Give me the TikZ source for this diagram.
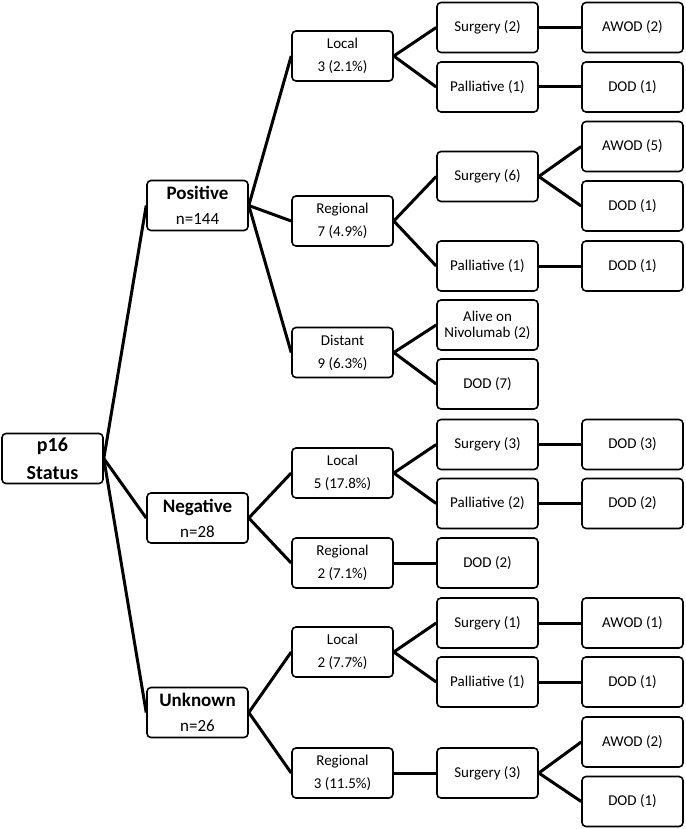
\documentclass[tikz,border=0pt]{standalone}
\usepackage{fontspec}
\setmainfont{Carlito}
\usetikzlibrary{positioning}

\begin{document}
\begin{tikzpicture}[x=1pt,y=1pt,
    node distance=145pt,
    on grid,
    box/.style={draw,rounded corners=4pt,line width=1.6pt,
      minimum width=101pt,minimum height=50pt,inner sep=0pt,align=center,
      font=\fontsize{15}{23}\selectfont},
    tight/.style={font=\fontsize{15}{16}\selectfont},
    top/.style={font=\fontsize{20}{28}\selectfont\bfseries},
    group/.style={font=\fontsize{17}{25}\selectfont},
    branch/.style={line width=3pt}]

    \useasboundingbox (0,0) rectangle (685,-829);

    \node[box,top]   (root) at (52.5,-458.5)                   {p16\\Status};

    \node[box,group] (pos) [above right=253pt and 145pt of root] {{\bfseries\fontsize{19}{25}\selectfont Positive}\\n=144};
    \node[box,group] (neg) [below right=59.5pt and 145pt of root] {{\bfseries\fontsize{19}{25}\selectfont Negative}\\n=28};
    \node[box,group] (unk) [below right=254pt and 145pt of root] {{\bfseries\fontsize{19}{25}\selectfont Unknown}\\n=26};

    \node[box] (pos_loc)  [above right=149.5pt and 145pt of pos] {Local\\3 (2.1\%)};
    \node[box] (pos_reg)  [below right=15.5pt and 145pt of pos]  {Regional\\7 (4.9\%)};
    \node[box] (pos_dist) [below right=147pt and 145pt of pos]   {Distant\\9 (6.3\%)};
    \node[box] (neg_loc)  [above right=45pt and 145pt of neg]    {Local\\5 (17.8\%)};
    \node[box] (neg_reg)  [below right=45pt and 145pt of neg]    {Regional\\2 (7.1\%)};
    \node[box] (unk_loc)  [above right=60.5pt and 145pt of unk]  {Local\\2 (7.7\%)};
    \node[box] (unk_reg)  [below right=60.5pt and 145pt of unk]  {Regional\\3 (11.5\%)};

    \node[box] (pl_surg)  [above right=28.5pt and 145pt of pos_loc]  {Surgery (2)};
    \node[box] (pl_pall)  [below right=31pt and 145pt of pos_loc]    {Palliative (1)};
    \node[box] (pr_surg)  [above right=44.5pt and 145pt of pos_reg]  {Surgery (6)};
    \node[box] (pr_pall)  [below right=45pt and 145pt of pos_reg]    {Palliative (1)};
    \node[box,tight] (pd_alive) [above right=27.5pt and 145pt of pos_dist] {Alive on\\Nivolumab (2)};
    \node[box] (pd_dod)   [below right=31.5pt and 145pt of pos_dist] {DOD (7)};
    \node[box] (nl_surg)  [above right=28.5pt and 145pt of neg_loc]  {Surgery (3)};
    \node[box] (nl_pall)  [below right=30.5pt and 145pt of neg_loc]  {Palliative (2)};
    \node[box] (nr_dod)   [right=of neg_reg]                         {DOD (2)};
    \node[box] (ul_surg)  [above right=29pt and 145pt of unk_loc]    {Surgery (1)};
    \node[box] (ul_pall)  [below right=30pt and 145pt of unk_loc]    {Palliative (1)};
    \node[box] (ur_surg)  [right=of unk_reg]                         {Surgery (3)};

    \node[box] (pls_out)  [right=of pl_surg]                         {AWOD (2)};
    \node[box] (plp_out)  [right=of pl_pall]                         {DOD (1)};
    \node[box] (prs_awod) [above right=30pt and 145pt of pr_surg]    {AWOD (5)};
    \node[box] (prs_dod)  [below right=29.5pt and 145pt of pr_surg]  {DOD (1)};
    \node[box] (prp_out)  [right=of pr_pall]                         {DOD (1)};
    \node[box] (nls_out)  [right=of nl_surg]                         {DOD (3)};
    \node[box] (nlp_out)  [right=of nl_pall]                         {DOD (2)};
    \node[box] (uls_out)  [right=of ul_surg]                         {AWOD (1)};
    \node[box] (ulp_out)  [right=of ul_pall]                         {DOD (1)};
    \node[box] (urs_awod) [above right=31pt and 145pt of ur_surg]    {AWOD (2)};
    \node[box] (urs_dod)  [below right=28.5pt and 145pt of ur_surg]  {DOD (1)};

    \path[branch]
    (root.east)     edge (pos.west)
    (root.east)     edge (neg.west)
    (root.east)     edge (unk.west)
    (pos.east)      edge (pos_loc.west)
    (pos.east)      edge (pos_reg.west)
    (pos.east)      edge (pos_dist.west)
    (neg.east)      edge (neg_loc.west)
    (neg.east)      edge (neg_reg.west)
    (unk.east)      edge (unk_loc.west)
    (unk.east)      edge (unk_reg.west)
    (pos_loc.east)  edge (pl_surg.west)
    (pos_loc.east)  edge (pl_pall.west)
    (pos_reg.east)  edge (pr_surg.west)
    (pos_reg.east)  edge (pr_pall.west)
    (pos_dist.east) edge (pd_alive.west)
    (pos_dist.east) edge (pd_dod.west)
    (neg_loc.east)  edge (nl_surg.west)
    (neg_loc.east)  edge (nl_pall.west)
    (neg_reg.east)  edge (nr_dod.west)
    (unk_loc.east)  edge (ul_surg.west)
    (unk_loc.east)  edge (ul_pall.west)
    (unk_reg.east)  edge (ur_surg.west)
    (pl_surg.east)  edge (pls_out.west)
    (pl_pall.east)  edge (plp_out.west)
    (pr_surg.east)  edge (prs_awod.west)
    (pr_surg.east)  edge (prs_dod.west)
    (pr_pall.east)  edge (prp_out.west)
    (nl_surg.east)  edge (nls_out.west)
    (nl_pall.east)  edge (nlp_out.west)
    (ul_surg.east)  edge (uls_out.west)
    (ul_pall.east)  edge (ulp_out.west)
    (ur_surg.east)  edge (urs_awod.west)
    (ur_surg.east)  edge (urs_dod.west);
\end{tikzpicture}
\end{document}
